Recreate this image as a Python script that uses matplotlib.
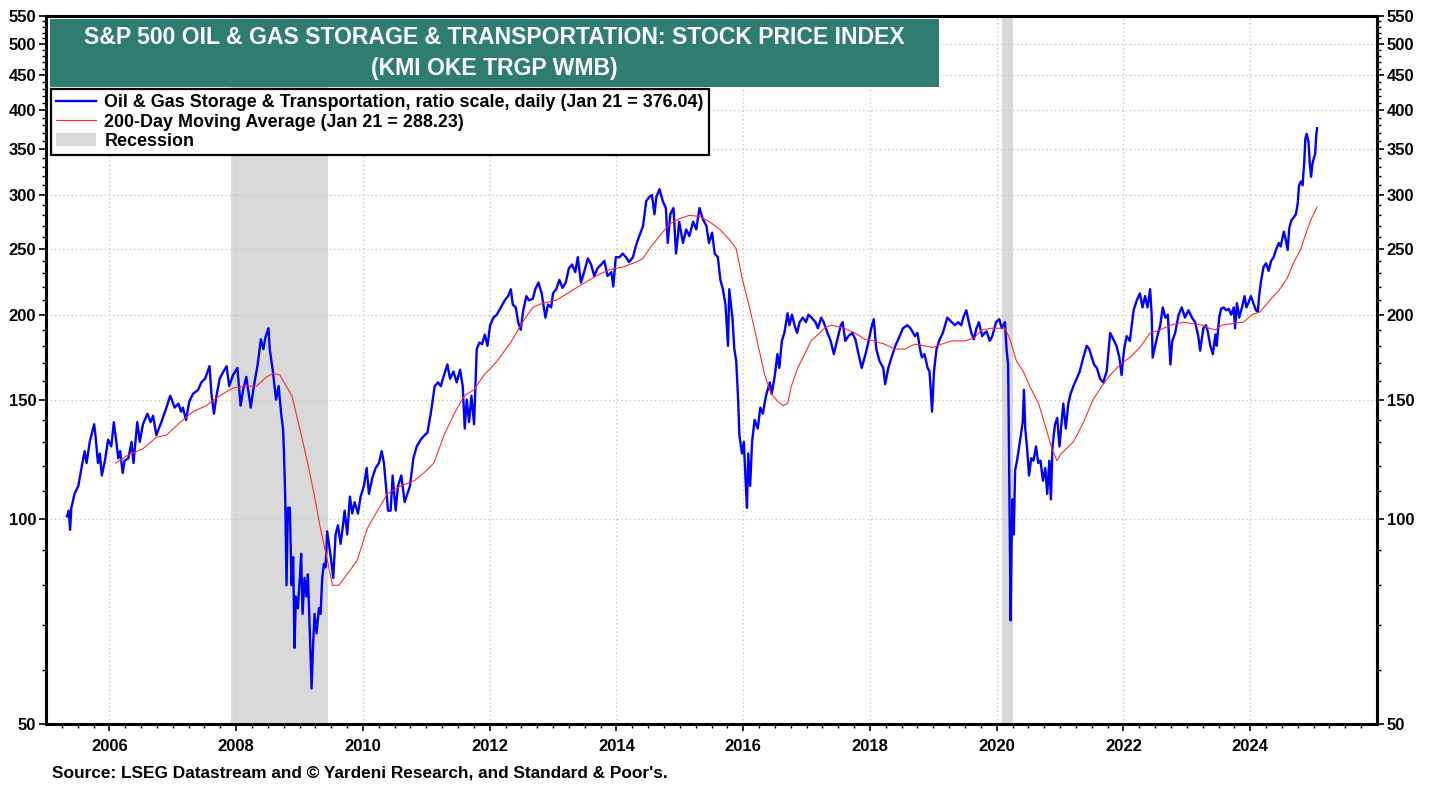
import matplotlib
matplotlib.use("Agg")
import matplotlib.pyplot as plt
from matplotlib.lines import Line2D
from matplotlib.patches import Patch, Rectangle
from matplotlib.ticker import FixedLocator, NullFormatter, FixedFormatter

plt.rcParams['font.family'] = ['Liberation Sans', 'DejaVu Sans']
plt.rcParams['font.weight'] = 'bold'

# ---------------- data (decimal years, index values) ----------------
price_dates = [
    2005.33, 2005.36, 2005.38, 2005.40, 2005.45, 2005.51, 2005.56, 2005.61, 2005.64, 2005.69,
    2005.76, 2005.78, 2005.82, 2005.85, 2005.88, 2005.93, 2005.98, 2006.03, 2006.07, 2006.11,
    2006.14, 2006.17, 2006.21, 2006.24, 2006.30, 2006.35, 2006.38, 2006.44, 2006.48, 2006.53,
    2006.60, 2006.65, 2006.69, 2006.74, 2006.82, 2006.90, 2006.96, 2007.03, 2007.09, 2007.13,
    2007.16, 2007.21, 2007.26, 2007.32, 2007.40, 2007.45, 2007.51, 2007.58, 2007.61, 2007.65,
    2007.69, 2007.74, 2007.80, 2007.85, 2007.89, 2007.95, 2008.02, 2008.07, 2008.11, 2008.16,
    2008.23, 2008.28, 2008.34, 2008.39, 2008.43, 2008.46, 2008.51, 2008.53, 2008.58, 2008.63,
    2008.67, 2008.71, 2008.74, 2008.753, 2008.774, 2008.795, 2008.816, 2008.847, 2008.874, 2008.90,
    2008.921, 2008.942, 2008.974, 2009.005, 2009.026, 2009.048, 2009.079, 2009.111, 2009.132, 2009.163,
    2009.19, 2009.216, 2009.237, 2009.269, 2009.306, 2009.332, 2009.358, 2009.385, 2009.411, 2009.437,
    2009.464, 2009.50, 2009.532, 2009.569, 2009.606, 2009.648, 2009.68, 2009.711, 2009.753, 2009.795,
    2009.832, 2009.869, 2009.922, 2009.964, 2010.016, 2010.059, 2010.095, 2010.148, 2010.201, 2010.253,
    2010.296, 2010.332, 2010.375, 2010.396, 2010.438, 2010.469, 2010.517, 2010.554, 2010.606, 2010.659,
    2010.701, 2010.743, 2010.796, 2010.849, 2010.912, 2010.975, 2011.017, 2011.07, 2011.133, 2011.186,
    2011.228, 2011.28, 2011.333, 2011.375, 2011.428, 2011.48, 2011.533, 2011.575, 2011.607, 2011.638,
    2011.675, 2011.712, 2011.754, 2011.796, 2011.838, 2011.881, 2011.923, 2011.965, 2012.007, 2012.06,
    2012.112, 2012.176, 2012.239, 2012.291, 2012.333, 2012.365, 2012.412, 2012.449, 2012.49, 2012.53,
    2012.58, 2012.62, 2012.68, 2012.72, 2012.77, 2012.82, 2012.88, 2012.92, 2012.97, 2013.00,
    2013.05, 2013.10, 2013.15, 2013.20, 2013.25, 2013.30, 2013.35, 2013.39, 2013.44, 2013.49,
    2013.55, 2013.60, 2013.65, 2013.70, 2013.76, 2013.81, 2013.86, 2013.92, 2013.95, 2013.99,
    2014.05, 2014.10, 2014.15, 2014.20, 2014.26, 2014.31, 2014.36, 2014.42, 2014.47, 2014.52,
    2014.56, 2014.60, 2014.63, 2014.68, 2014.73, 2014.78, 2014.81, 2014.85, 2014.90, 2014.94,
    2014.97, 2014.99, 2015.05, 2015.10, 2015.15, 2015.21, 2015.26, 2015.31, 2015.36, 2015.42,
    2015.46, 2015.51, 2015.55, 2015.60, 2015.64, 2015.68, 2015.72, 2015.76, 2015.78, 2015.83,
    2015.86, 2015.89, 2015.92, 2015.94, 2015.98, 2016.01, 2016.04, 2016.06, 2016.08, 2016.11,
    2016.14, 2016.18, 2016.23, 2016.27, 2016.31, 2016.36, 2016.42, 2016.45, 2016.50, 2016.54,
    2016.57, 2016.61, 2016.65, 2016.70, 2016.73, 2016.77, 2016.81, 2016.85, 2016.89, 2016.94,
    2016.99, 2017.03, 2017.08, 2017.14, 2017.18, 2017.23, 2017.27, 2017.33, 2017.38, 2017.43,
    2017.48, 2017.54, 2017.57, 2017.61, 2017.66, 2017.72, 2017.77, 2017.82, 2017.87, 2017.93,
    2017.98, 2018.02, 2018.06, 2018.10, 2018.15, 2018.21, 2018.24, 2018.29, 2018.34, 2018.40,
    2018.47, 2018.52, 2018.59, 2018.64, 2018.71, 2018.75, 2018.79, 2018.82, 2018.86, 2018.91,
    2018.94, 2018.98, 2019.01, 2019.05, 2019.10, 2019.15, 2019.22, 2019.29, 2019.34, 2019.39,
    2019.44, 2019.48, 2019.52, 2019.56, 2019.60, 2019.64, 2019.68, 2019.72, 2019.77, 2019.81,
    2019.84, 2019.89, 2019.93, 2019.99, 2020.04, 2020.08, 2020.13, 2020.155, 2020.18, 2020.197,
    2020.22, 2020.234, 2020.25, 2020.27, 2020.29, 2020.32, 2020.355, 2020.38, 2020.41, 2020.43,
    2020.45, 2020.48, 2020.51, 2020.545, 2020.58, 2020.62, 2020.655, 2020.69, 2020.73, 2020.766,
    2020.797, 2020.83, 2020.855, 2020.88, 2020.92, 2020.955, 2020.99, 2021.024, 2021.05, 2021.09,
    2021.13, 2021.166, 2021.21, 2021.26, 2021.31, 2021.366, 2021.42, 2021.46, 2021.50, 2021.535,
    2021.58, 2021.63, 2021.68, 2021.735, 2021.79, 2021.84, 2021.89, 2021.935, 2021.97, 2022.01,
    2022.05, 2022.10, 2022.16, 2022.21, 2022.26, 2022.30, 2022.34, 2022.38, 2022.42, 2022.445,
    2022.46, 2022.50, 2022.535, 2022.58, 2022.62, 2022.66, 2022.70, 2022.74, 2022.77, 2022.815,
    2022.87, 2022.92, 2022.97, 2023.025, 2023.08, 2023.13, 2023.18, 2023.21, 2023.26, 2023.30,
    2023.33, 2023.37, 2023.41, 2023.45, 2023.47, 2023.51, 2023.54, 2023.58, 2023.62, 2023.66,
    2023.70, 2023.74, 2023.76, 2023.79, 2023.825, 2023.87, 2023.91, 2023.94, 2023.97, 2024.01,
    2024.05, 2024.09, 2024.12, 2024.14, 2024.17, 2024.21, 2024.25, 2024.29, 2024.33, 2024.37,
    2024.405, 2024.45, 2024.48, 2024.53, 2024.56, 2024.59, 2024.616, 2024.647, 2024.685, 2024.72,
    2024.75, 2024.77, 2024.80, 2024.825, 2024.85, 2024.87, 2024.89, 2024.92, 2024.94, 2024.96,
    2024.98, 2025.00, 2025.025, 2025.04, 2025.055,
]
price_values = [
    101, 103, 96.5, 104, 109, 112, 119, 126, 121, 130,
    138, 133, 121, 125, 116, 122, 131, 128, 139, 130,
    123, 126, 117, 122, 123, 130, 121, 139, 130, 138,
    143, 139, 142, 133, 139, 146, 152, 146, 148, 144,
    146, 140, 149, 153, 155, 159, 161, 168, 153, 143,
    152, 161, 165, 168, 157, 163, 167, 147, 155, 162,
    146, 157, 169, 184, 178, 185, 191, 178, 165, 150,
    157, 143, 136, 127, 108, 80, 104, 104, 80, 88,
    64.7, 77, 74, 82, 89, 72.6, 82, 77, 83, 68,
    56.4, 66, 72.6, 68, 74, 72.6, 82, 86, 85, 96,
    92, 87, 82, 95, 98, 92, 97, 103, 95, 108,
    102, 106, 102, 108, 112, 119, 109, 115, 119, 121,
    126, 121, 109, 103, 103, 116, 103, 112, 116, 106,
    109, 112, 123, 128, 131, 133, 134, 143, 157, 159,
    157, 163, 169, 161, 165, 159, 166, 157, 136, 150,
    139, 152, 138, 178, 182, 181, 187, 180, 193, 198,
    200, 205, 210, 213, 218, 207, 205, 195, 190, 203,
    213, 210, 211, 218, 223, 215, 198, 207, 205, 215,
    218, 225, 219, 223, 234, 237, 231, 243, 223, 231,
    242, 237, 228, 234, 237, 240, 228, 231, 220, 243,
    243, 246, 243, 239, 243, 253, 261, 270, 294, 298,
    300, 281, 298, 306, 294, 287, 255, 281, 287, 246,
    261, 274, 255, 267, 261, 274, 267, 287, 277, 270,
    255, 264, 246, 243, 225, 218, 207, 180, 218, 198,
    178, 171, 150, 133, 125, 130, 113, 104, 125, 112,
    130, 140, 136, 146, 143, 152, 159, 153, 163, 175,
    167, 183, 188, 201, 193, 200, 193, 188, 195, 198,
    195, 200, 198, 195, 191, 198, 195, 188, 183, 175,
    183, 193, 195, 183, 186, 188, 184, 175, 167, 175,
    183, 191, 197, 178, 171, 167, 158, 167, 173, 180,
    186, 191, 193, 191, 186, 188, 178, 173, 175, 167,
    165, 144, 165, 178, 184, 188, 198, 195, 193, 195,
    193, 199, 203, 195, 188, 184, 191, 195, 186, 188,
    189, 183, 186, 195, 197, 191, 195, 178, 169, 118,
    71, 92, 107, 95, 118, 122, 128, 133, 139, 155,
    136, 127, 116, 123, 122, 128, 121, 122, 114, 119,
    109, 122, 107, 128, 138, 141, 128, 139, 148, 136,
    148, 153, 157, 161, 165, 173, 180, 178, 173, 169,
    167, 161, 159, 165, 188, 184, 180, 173, 163, 178,
    186, 183, 203, 210, 215, 205, 213, 205, 218, 200,
    173, 180, 186, 193, 205, 198, 200, 169, 183, 188,
    200, 205, 198, 203, 198, 195, 186, 177, 191, 193,
    189, 180, 175, 187, 180, 198, 204, 205, 203, 204,
    200, 205, 191, 208, 198, 205, 213, 205, 208, 213,
    208, 203, 202, 213, 224, 235, 238, 232, 240, 243,
    249, 255, 252, 265, 258, 249, 268, 275, 278, 281,
    292, 310, 314, 310, 333, 363, 369, 359, 333, 319,
    333, 339, 345, 366, 376.04,
]

ma_dates = [
    2006.10, 2006.27, 2006.53, 2006.74, 2006.90, 2007.12, 2007.32, 2007.53, 2007.74, 2007.95,
    2008.16, 2008.32, 2008.48, 2008.59, 2008.69, 2008.79, 2008.88, 2009.02, 2009.12, 2009.23,
    2009.33, 2009.44, 2009.52, 2009.62, 2009.75, 2009.91, 2010.07, 2010.23, 2010.385, 2010.60,
    2010.81, 2010.96, 2011.12, 2011.28, 2011.44, 2011.60, 2011.75, 2011.91, 2012.12, 2012.33,
    2012.45, 2012.52, 2012.68, 2012.84, 2013.05, 2013.26, 2013.47, 2013.68, 2013.89, 2014.10,
    2014.31, 2014.42, 2014.52, 2014.68, 2014.84, 2015.00, 2015.15, 2015.31, 2015.47, 2015.63,
    2015.78, 2015.89, 2015.99, 2016.10, 2016.22, 2016.34, 2016.44, 2016.55, 2016.63, 2016.70,
    2016.76, 2016.86, 2016.97, 2017.07, 2017.18, 2017.28, 2017.39, 2017.50, 2017.60, 2017.76,
    2017.92, 2018.07, 2018.23, 2018.39, 2018.55, 2018.71, 2018.86, 2019.00, 2019.13, 2019.29,
    2019.50, 2019.65, 2019.76, 2019.92, 2020.13, 2020.21, 2020.31, 2020.42, 2020.52, 2020.66,
    2020.76, 2020.87, 2020.95, 2021.02, 2021.21, 2021.37, 2021.52, 2021.66, 2021.79, 2021.95,
    2022.10, 2022.26, 2022.42, 2022.58, 2022.74, 2022.95, 2023.10, 2023.24, 2023.35, 2023.45,
    2023.55, 2023.71, 2023.89, 2024.03, 2024.16, 2024.29, 2024.45, 2024.58, 2024.68, 2024.79,
    2024.87, 2024.95, 2025.055,
]
ma_values = [
    121, 124, 127, 132, 133, 139, 144, 147, 152, 156,
    157, 157, 162, 164, 163, 157, 152, 134, 122, 109,
    97, 87, 80, 80, 83, 87, 97, 103, 109, 112,
    114, 117, 121, 133, 143, 152, 155, 163, 171, 182,
    190, 195, 205, 208, 210, 216, 222, 228, 233, 235,
    239, 242, 250, 261, 272, 277, 280, 279, 274, 267,
    258, 250, 225, 205, 183, 163, 153, 149, 147, 148,
    157, 167, 175, 183, 187, 191, 193, 192, 191, 188,
    184, 183, 181, 178, 178, 181, 180, 179, 181, 183,
    183, 185, 190, 191, 191, 184, 171, 165, 157, 148,
    138, 127, 122, 125, 130, 139, 150, 157, 163, 169,
    173, 179, 188, 190, 193, 195, 194, 193, 191, 190,
    193, 194, 195, 200, 202, 209, 217, 226, 238, 249,
    262, 275, 288.23,
]

recessions = [(2007.92, 2009.45), (2020.09, 2020.25)]

y_major = [50, 100, 150, 200, 250, 300, 350, 400, 450, 500, 550]
y_minor = [v for v in range(60, 550, 10) if v not in y_major]
x_major = [2006, 2008, 2010, 2012, 2014, 2016, 2018, 2020, 2022, 2024]
x_labels = [str(y) for y in x_major]

title_lines = ["S&P 500 OIL & GAS STORAGE & TRANSPORTATION: STOCK PRICE INDEX",
               "(KMI OKE TRGP WMB)"]
legend_labels = ["Oil & Gas Storage & Transportation, ratio scale, daily (Jan 21 = 376.04)",
                 "200-Day Moving Average (Jan 21 = 288.23)",
                 "Recession"]
source_text = "Source: LSEG Datastream and \u00a9 Yardeni Research, and Standard & Poor's."

# ---------------- figure ----------------
W, H = 1436, 785
fig = plt.figure(figsize=(W / 100, H / 100), dpi=100)
ax = fig.add_axes([46 / W, 1 - 724 / H, (1377 - 46) / W, (724 - 16) / H])

for a, b in recessions:
    ax.axvspan(a, b, color='#D9D9D9', zorder=0.2, lw=0)

ax.plot(price_dates, price_values, color='#0000FF', lw=1.7, zorder=3)
ax.plot(ma_dates, ma_values, color='#FF2A2A', lw=0.8, zorder=4)

ax.set_yscale('log')
ax.set_ylim(50, 550)
ax.set_xlim(2005.0, 2026.0)

ax.yaxis.set_major_locator(FixedLocator(y_major))
ax.yaxis.set_major_formatter(FixedFormatter([str(v) for v in y_major]))
ax.yaxis.set_minor_locator(FixedLocator(y_minor))
ax.yaxis.set_minor_formatter(NullFormatter())

ax.xaxis.set_major_locator(FixedLocator(x_major))
ax.xaxis.set_major_formatter(FixedFormatter(x_labels))
ax.xaxis.set_minor_locator(FixedLocator([2005 + 0.25 * i for i in range(1, 84)]))

ax.tick_params(axis='y', which='both', left=True, right=True, labelleft=True, labelright=True,
               direction='out')
ax.tick_params(axis='both', which='major', length=5, width=1.2, labelsize=12, pad=2)
ax.tick_params(axis='both', which='minor', length=3, width=1)
ax.tick_params(axis='x', which='major', pad=6)
for t in ax.yaxis.get_major_ticks() + ax.xaxis.get_major_ticks():
    t.label1.set_fontweight('bold')
    t.label2.set_fontweight('bold')

ax.grid(True, which='major', axis='both', color='#C8C8C8', lw=1.0, ls=(0, (1, 2)), zorder=0.5)
ax.set_axisbelow(True)

for s in ax.spines.values():
    s.set_linewidth(2.2)
    s.set_color('black')

# title box
ax.add_patch(Rectangle((50 / W, 1 - 87 / H), (939 - 50) / W, (87 - 19) / H,
                       transform=fig.transFigure, facecolor='#2E7D70', edgecolor='none',
                       zorder=6, clip_on=False))
fig.text(494 / W, 1 - 37 / H, title_lines[0], color='white', fontsize=16.6, fontweight='bold',
         ha='center', va='center', zorder=7)
fig.text(494 / W, 1 - 68 / H, title_lines[1], color='white', fontsize=16.6, fontweight='bold',
         ha='center', va='center', zorder=7)

handles = [Line2D([], [], color='#0000FF', lw=1.7),
           Line2D([], [], color='#FF2A2A', lw=0.8),
           Patch(facecolor='#D9D9D9', edgecolor='none')]
leg = ax.legend(handles, legend_labels, loc='upper left',
                bbox_to_anchor=(51 / W, 1 - 89 / H), bbox_transform=fig.transFigure,
                borderaxespad=0, fancybox=False, framealpha=1, edgecolor='black',
                prop={'weight': 'bold', 'size': 12.9}, handlelength=2.2, handletextpad=0.48,
                borderpad=0.3, labelspacing=0.12)
leg.get_frame().set_linewidth(1.6)
leg.set_zorder(8)

fig.text(52 / W, 1 - 773 / H, source_text, fontsize=12.4, fontweight='bold', ha='left', va='center')

fig.savefig('out.png', dpi=100)
